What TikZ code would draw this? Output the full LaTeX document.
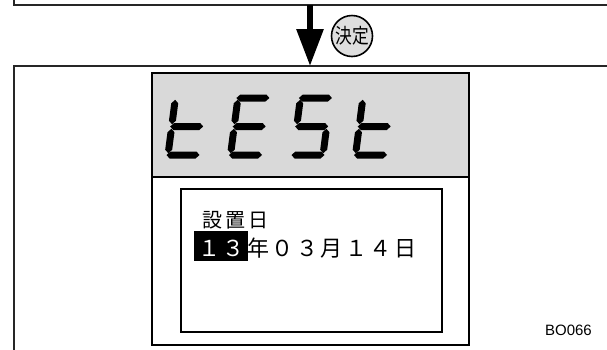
\documentclass[tikz,border=0pt]{standalone}
\usepackage{fontspec}
\setmainfont{Liberation Sans}
\newfontfamily\jp{Noto Sans CJK JP}
\usetikzlibrary{arrows.meta}
\definecolor{lcdgray}{HTML}{D9D9D9}
\definecolor{btngray}{HTML}{DEDEDE}
\newcommand\hseg[1]{\fill (-1.5,#1) -- (2,#1+3.5) -- (28,#1+3.5) -- (31.5,#1) -- (28,#1-3.5) -- (2,#1-3.5) -- cycle;}
\newcommand\vseg[3]{\fill (#1,#2) -- (#1+3.5,#2+3.5) -- (#1+3.5,#3-3.5) -- (#1,#3) -- (#1-3.5,#3-3.5) -- (#1-3.5,#2+3.5) -- cycle;}
\newcommand\sega{\hseg{57}}
\newcommand\segg{\hseg{28.5}}
\newcommand\segd{\hseg{0}}
\newcommand\segf{\vseg{0}{30.8}{55.2}}
\newcommand\sege{\vseg{0}{1.8}{26.2}}
\newcommand\segb{\vseg{30}{30.8}{55.2}}
\newcommand\segc{\vseg{30}{1.8}{26.2}}
\begin{document}
\begin{tikzpicture}[x=1pt,y=-1pt,
  frame/.style={draw=black!85,line width=1.7pt},
  lcd/.style={draw=black,line width=2.6pt},
  digitpos/.style={y=1pt,xslant=0.13},
  jptext/.style={inner sep=0pt,anchor=base,font=\jp\fontsize{20}{20}\selectfont},
  jptextb/.style={inner sep=0pt,anchor=base,font=\jp\fontsize{22}{22}\selectfont}]
\useasboundingbox (0,0) rectangle (607,349);
% partial frames
\draw[frame] (14,-3) -- (14,5) -- (610,5);
\draw[frame] (610,66) -- (14,66) -- (14,352);
% arrow
\coordinate (arrowtop) at (310,5);
\coordinate (arrowtip) at (310,66);
\draw[line width=6pt,-{Triangle[width=26pt,length=37pt]}] (arrowtop) -- (arrowtip);
% button
\node[circle,draw,line width=1.6pt,fill=btngray,minimum size=41pt,inner sep=0pt] (kettei) at (352,36)
  {\jp\fontsize{19}{19}\selectfont\scalebox{0.88}[1.08]{決定}};
% LCD
\fill[lcdgray] (152,73) rectangle (469,177);
\draw[lcd] (152,73) rectangle (469,345);
\draw[lcd] (152,177) -- (469,177);
% 7-segment tESt
\begin{scope}[shift={(168,155)},digitpos]\segf\sege\segg\segd\end{scope}
\begin{scope}[shift={(230.5,155)},digitpos]\sega\segf\sege\segg\segd\end{scope}
\begin{scope}[shift={(293,155)},digitpos]\sega\segf\segg\segc\segd\end{scope}
\begin{scope}[shift={(355.5,155)},digitpos]\segf\sege\segg\segd\end{scope}
% inner screen
\draw[line width=1.3pt] (181,189) rectangle (442,332);
\fill[black] (194,231) rectangle (248,261);
\node[jptext] (t1) at (212,227) {設};
\node[jptext] (t2) at (235.5,227) {置};
\node[jptext] (t3) at (258.5,227) {日};
\node[jptextb,text=white] (d1) at (209,256) {１};
\node[jptextb,text=white] (d2) at (233.5,256) {３};
\node[jptextb] (d3) at (258,256) {年};
\node[jptextb] (d4) at (282.5,256) {０};
\node[jptextb] (d5) at (307,256) {３};
\node[jptextb] (d6) at (331.5,256) {月};
\node[jptextb] (d7) at (356,256) {１};
\node[jptextb] (d8) at (380.5,256) {４};
\node[jptextb] (d9) at (405,256) {日};
\node[inner sep=0pt,anchor=base east,font=\fontsize{15}{15}\selectfont] (code) at (592,335) {BO066};
\end{tikzpicture}
\end{document}
